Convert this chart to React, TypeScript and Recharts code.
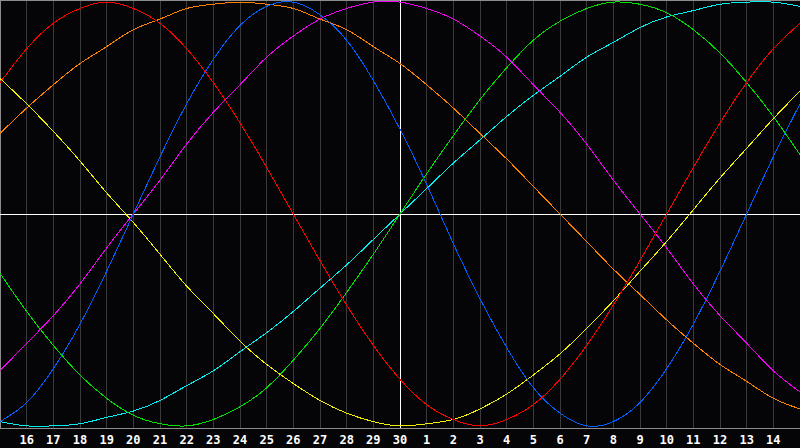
import { LineChart, Line, XAxis, YAxis, CartesianGrid, ReferenceLine, ReferenceArea } from 'recharts';

// day labels, from the 15th of last month to the 15th of this one
const days = [15, 16, 17, 18, 19, 20, 21, 22, 23, 24, 25, 26, 27, 28, 29, 30, 1, 2, 3, 4, 5, 6, 7, 8, 9, 10, 11, 12, 13, 14, 15];

// cycle values, -100..100
const red = [62, 78, 90, 97, 100, 97, 90, 78, 62, 43, 22, 0, -22, -43, -62, -78, -90, -97, -100, -97, -90, -78, -62, -43, -22, 0, 22, 43, 62, 78, 90];
const green = [-28, -46, -62, -76, -87, -95, -99, -100, -97, -91, -82, -69, -54, -37, -19, 0, 19, 37, 54, 69, 82, 91, 97, 100, 99, 95, 87, 76, 62, 46, 28];
const blue = [-98, -89, -73, -52, -27, 0, 27, 52, 73, 89, 98, 100, 94, 82, 63, 40, 14, -14, -40, -63, -82, -94, -100, -98, -89, -73, -52, -27, 0, 27, 52];
const magenta = [-74, -61, -48, -33, -16, 0, 16, 33, 48, 61, 74, 84, 92, 97, 100, 100, 97, 92, 84, 74, 61, 48, 33, 16, 0, -16, -33, -48, -61, -74, -84];
const yellow = [64, 52, 39, 25, 10, -4, -19, -34, -47, -60, -71, -80, -88, -94, -98, -100, -99, -97, -92, -85, -76, -66, -54, -41, -27, -13, 2, 17, 31, 45, 58];
const orange = [38, 50, 61, 71, 79, 87, 92, 97, 99, 100, 99, 97, 92, 87, 79, 71, 61, 50, 38, 26, 13, 0, -13, -26, -38, -50, -61, -71, -79, -87, -92];
const cyan = [-98, -100, -100, -99, -96, -93, -88, -81, -74, -65, -56, -46, -35, -24, -12, 0, 12, 24, 35, 46, 56, 65, 74, 81, 88, 93, 96, 99, 100, 100, 98];

const data = days.map((d, i) => ({
  i,
  day: d,
  red: red[i],
  green: green[i],
  blue: blue[i],
  magenta: magenta[i],
  yellow: yellow[i],
  orange: orange[i],
  cyan: cyan[i],
}));

const ticks = days.map((_, i) => i).slice(1, -1);

const SERIES = [
  { key: 'orange', color: '#ff8000' },
  { key: 'cyan', color: '#00f0f0' },
  { key: 'magenta', color: '#f000f0' },
  { key: 'green', color: '#00e000' },
  { key: 'yellow', color: '#f0f000' },
  { key: 'blue', color: '#0060ff' },
  { key: 'red', color: '#ff0000' },
];

export default function App() {
  return (
    <div style={{ position: 'absolute', left: 0, top: 0, width: 800, height: 448, background: '#050508' }}>
      <LineChart width={800} height={448} data={data} margin={{ top: 0, right: 0, left: 0, bottom: 0 }}>
        <CartesianGrid horizontal={false} stroke="#3a3a3a" strokeDasharray="" shapeRendering="crispEdges" />
        <XAxis
          dataKey="i"
          type="number"
          domain={[0, 30]}
          ticks={ticks}
          interval={0}
          tickFormatter={(v) => String(days[v])}
          height={20}
          axisLine={{ stroke: '#8c8c8c', shapeRendering: 'crispEdges' }}
          tickLine={false}
          tickSize={0}
          tickMargin={7}
          tick={{ fill: '#ffffff', fontSize: 12, fontWeight: 'bold', fontFamily: 'DejaVu Sans Mono' }}
        />
        <YAxis hide domain={[-101, 101]} />
        <ReferenceArea x1={0} x2={30} y1={-101} y2={101} fill="none" stroke="#8c8c8c" ifOverflow="visible" shapeRendering="crispEdges" />
        <ReferenceLine y={0} stroke="#ffffff" shapeRendering="crispEdges" />
        <ReferenceLine x={15} stroke="#ffffff" shapeRendering="crispEdges" />
        {SERIES.map((s) => (
          <Line
            key={s.key}
            type="natural"
            dataKey={s.key}
            stroke={s.color}
            strokeWidth={1}
            dot={false}
            activeDot={false}
            shapeRendering="crispEdges"
            isAnimationActive={false}
          />
        ))}
      </LineChart>
    </div>
  );
}
